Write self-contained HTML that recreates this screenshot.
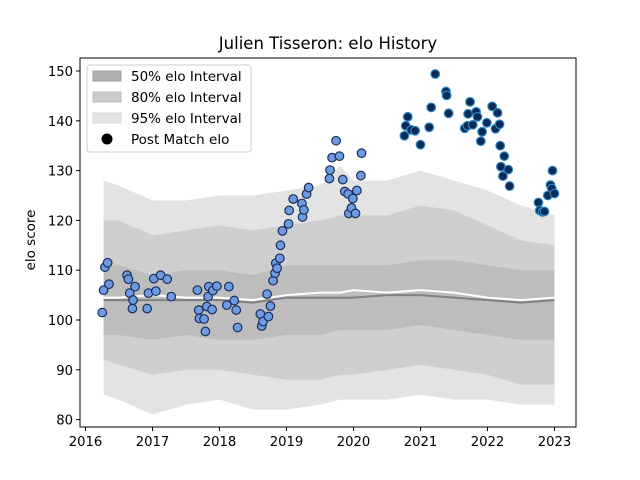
<!DOCTYPE html>
<html><head><meta charset="utf-8"><style>
body{margin:0;background:#fff;}
svg{display:block;font-family:"DejaVu Sans","Liberation Sans",sans-serif;}
</style></head><body>
<svg id="chart" width="640" height="480" viewBox="0 0 640 480">
<rect width="640" height="480" fill="#fff"/>
<text x="328" y="49" font-size="16.5" text-anchor="middle">Julien Tisseron: elo History</text>
<text transform="translate(35,240) rotate(-90)" font-size="13.5" text-anchor="middle">elo score</text>
<g id="plot"></g>
<g id="axes"></g>
<g id="legend">
<rect x="87" y="65" width="164" height="87" rx="3" fill="#fff" fill-opacity="0.8" stroke="#ccc"/>
<rect x="93" y="71" width="28" height="10" fill="#b0b0b0" stroke="#a0a0a0"/>
<text x="131" y="81" font-size="13.5">50% elo Interval</text>
<rect x="93" y="92" width="28" height="10" fill="#cbcbcb" stroke="#bdbdbd"/>
<text x="131" y="102" font-size="13.5">80% elo Interval</text>
<rect x="93" y="113" width="28" height="10" fill="#e3e3e3" stroke="#dadada"/>
<text x="131" y="123" font-size="13.5">95% elo Interval</text>
<circle cx="107" cy="139" r="5.5" fill="#000"/>
<text x="131" y="144" font-size="13.5">Post Match elo</text>
</g>
</svg>
<script>
const bandDates=[2016.27,2016.5,2017.0,2017.5,2018.0,2018.5,2019.0,2019.5,2019.8,2020.0,2020.5,2021.0,2021.5,2022.0,2022.5,2023.0];
const up95=[128,127,124,124,125,125,126,127,131,128,128,130,128,126,123,121];
const up80=[120,120,117,118,119,118,119,120,121,121,121,123,122,119,116,115];
const up50=[111,111,109,110,110,109,111,111,111,111,111,112,112,111,110,110];
const lo50=[97,97,96,97,96,96,97,97,98,98,98,99,98,97,96,96];
const lo80=[92,91,89,90,90,89,88,88,89,89,90,91,90,89,87,87];
const lo95=[85,84,81,83,84,82,82,83,84,84,84,85,84,84,83,83];
const medianLine=[104,104,104,104,104,103.5,104.5,104.5,104.5,104.5,105,105,104.5,104,103.5,104];
const meanLine=[104.5,104.5,105,104.5,104.5,104,105,105.5,105.5,106,105.5,106,105.5,104.5,104,104.5];
const ptDates=[2016.25,2016.27,2016.29,2016.33,2016.35,2016.62,2016.64,2016.66,2016.70,2016.71,2016.74,2016.92,2016.94,2017.02,2017.05,2017.12,2017.22,2017.28,2017.67,2017.69,2017.70,2017.77,2017.79,2017.81,2017.83,2017.84,2017.89,2017.90,2017.96,2018.11,2018.14,2018.22,2018.25,2018.27,2018.61,2018.63,2018.65,2018.71,2018.73,2018.76,2018.80,2018.83,2018.84,2018.86,2018.90,2018.91,2018.94,2019.03,2019.04,2019.10,2019.23,2019.24,2019.26,2019.30,2019.33,2019.64,2019.65,2019.68,2019.74,2019.79,2019.84,2019.87,2019.92,2019.93,2019.97,2019.99,2020.03,2020.05,2020.11,2020.12];
const ptElo=[101.5,106,110.6,111.5,107.2,109,108.2,105.4,102.3,104,106.7,102.3,105.4,108.3,105.8,109,108.2,104.7,106,102,100.3,100.2,97.7,102.7,104.7,106.7,102.1,105.9,106.8,103,106.7,103.9,102,98.5,101.2,98.8,99.7,105.2,100.7,102.8,107.9,109.4,111.4,110.4,112.4,115,117.9,119.3,122,124.3,123.4,120.7,122.1,125.3,126.6,128.4,130.1,132.6,136,132.9,128.2,125.8,125.3,121.4,122.5,124.4,121.4,126,129,133.5];
const darkDates=[2020.76,2020.78,2020.81,2020.86,2020.92,2021.00,2021.13,2021.16,2021.22,2021.38,2021.39,2021.42,2021.66,2021.70,2021.71,2021.74,2021.78,2021.83,2021.85,2021.90,2021.92,2021.99,2022.07,2022.12,2022.15,2022.18,2022.19,2022.25,2022.20,2022.23,2022.31,2022.33,2022.76,2022.78,2022.82,2022.85,2022.90,2022.94,2022.96,2022.97,2023.00];
const darkElo=[137,139,140.8,138.2,138,135.2,138.7,142.7,149.4,145.9,145.1,141.5,138.5,139,141.4,143.8,139.2,141.8,140.8,135.9,137.8,139.6,142.9,138.4,141.6,139.3,135,132.9,130.8,128.9,130.2,126.9,123.6,122,121.7,121.8,125,127.1,126.4,130,125.4];
const xTicks=[2016,2017,2018,2019,2020,2021,2022,2023];
const yTicks=[80,90,100,110,120,130,140,150];

const L=80,R=576,T=58,B=427;
function xs(d){return 85.5+(d-2016)*67;}
function ys(v){return 320-(v-100)*4.98;}
const NS='http://www.w3.org/2000/svg';
const plot=document.getElementById('plot'),axes=document.getElementById('axes');
function mk(tag,attrs,parent){const e=document.createElementNS(NS,tag);for(const k in attrs)e.setAttribute(k,attrs[k]);parent.appendChild(e);return e;}
function band(up,lo,fill,name){
 let d='';bandDates.forEach((t,i)=>{d+=(i?'L':'M')+xs(t)+','+ys(up[i]);});
 for(let i=bandDates.length-1;i>=0;i--)d+='L'+xs(bandDates[i])+','+ys(lo[i]);
 const p=mk('path',{d:d+'Z',fill:fill},plot);
 
 
}
band(up95,lo95,'#e3e3e3','band-95');
band(up80,lo80,'#cfcfcf','band-80');
band(up50,lo50,'#bdbdbd','band-50');
function line(vals,col,name){
 const pts=bandDates.map((t,i)=>xs(t)+','+ys(vals[i])).join(' ');
 const p=mk('polyline',{points:pts,fill:'none',stroke:col,'stroke-width':2},plot);
 
 
}
line(medianLine,'#808080','median-line');
line(meanLine,'#ffffff','mean-line');
ptDates.forEach((t,i)=>{
 const c=mk('circle',{cx:xs(t),cy:ys(ptElo[i]),r:4.3,fill:'#6d9ae0',stroke:'#1a2f5a','stroke-width':1.2},plot);
 
 
});
darkDates.forEach((t,i)=>{
 const c=mk('circle',{cx:xs(t),cy:ys(darkElo[i]),r:4.3,fill:'#0b2a55',stroke:'#2b86c6','stroke-width':1.2},plot);
 
 
});
const frame=mk('rect',{x:L,y:T,width:R-L,height:B-T,fill:'none',stroke:'#000','stroke-width':1},axes);


xTicks.forEach(t=>{
 const x=xs(t);
 const tk=mk('line',{x1:x,x2:x,y1:B,y2:B+4,stroke:'#000'},axes);
 
 
 const tx=mk('text',{x:x,y:B+19,'font-size':13.2,'text-anchor':'middle'},axes);
 tx.textContent=t;
 
 
});
yTicks.forEach(v=>{
 const y=ys(v);
 const tk=mk('line',{x1:L-4,x2:L,y1:y,y2:y,stroke:'#000'},axes);
 
 
 const tx=mk('text',{x:L-7,y:y+5,'font-size':13.2,'text-anchor':'end'},axes);
 tx.textContent=v;
 
 
});
</script>
</body></html>
